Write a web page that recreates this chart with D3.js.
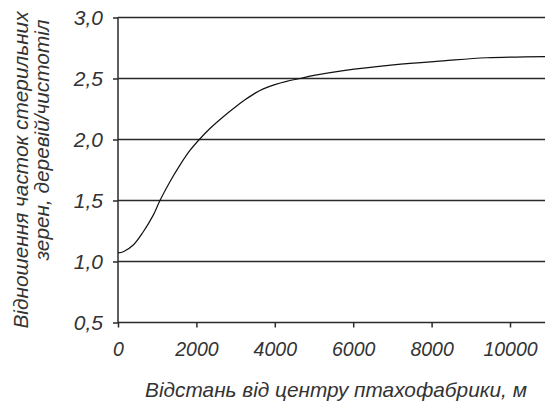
<!DOCTYPE html>
<html><head><meta charset="utf-8">
<script src="https://cdn.jsdelivr.net/npm/d3@7"></script>
<style>
body{margin:0;background:#fff;}
svg{display:block;font-family:"Liberation Sans",Arial,sans-serif;font-style:italic;}
</style></head><body>
<svg id="c" width="545" height="404"></svg>
<script>
const distance = [0,135,390,645,900,1070,1325,1580,1835,2075,2345,2686,3027,3240,3500,3707,4000,4300,4643,5000,5750,7023,8300,9400,10900];
const ratio    = [1.07,1.08,1.135,1.244,1.38,1.50,1.654,1.79,1.91,2.0,2.09,2.187,2.275,2.325,2.38,2.415,2.45,2.477,2.50,2.525,2.565,2.612,2.645,2.67,2.68];
const yTicks = [0.5,1.0,1.5,2.0,2.5,3.0];
const xTicks = [0,2000,4000,6000,8000,10000];
const xTitle = "Відстань від центру птахофабрики, м";
const yTitle = ["Відношення часток стерильних","зерен, деревій/чистотіл"];

const svg = d3.select("#c");
const mLeft=118, mTop=17.5, mBottom=322.5;
const x = d3.scaleLinear().domain([0,11000]).range([mLeft, mLeft+39.2*11]);
const y = d3.scaleLinear().domain([0.5,3.0]).range([mBottom, mTop]);
const col="#2a2a2a", tcol="#333";

// gridlines
svg.append("g").selectAll("line").data(yTicks.slice(1)).join("line")
  .attr("x1",mLeft).attr("x2",545).attr("y1",d=>y(d)).attr("y2",d=>y(d))
  .attr("stroke",col).attr("stroke-width",1.5);

// y axis
const ya = svg.append("g").attr("transform",`translate(${mLeft},0)`)
  .call(d3.axisLeft(y).tickValues(yTicks).tickSize(5).tickPadding(10).tickFormat(d=>d3.format(".1f")(d).replace(".",",")));
// x axis
const xa = svg.append("g").attr("transform",`translate(0,${mBottom})`)
  .call(d3.axisBottom(x).tickValues(xTicks).tickSize(5).tickPadding(15).tickFormat(d3.format("d")));
[ya,xa].forEach(a=>{
  a.select(".domain").attr("stroke",col).attr("stroke-width",1.5);
  a.selectAll(".tick line").attr("stroke",col).attr("stroke-width",1.5);
  a.selectAll(".tick text").attr("fill",tcol).attr("font-family","Liberation Sans, Arial, sans-serif").attr("font-style","italic");
});
ya.selectAll(".tick text").attr("font-size",21);
xa.selectAll(".tick text").attr("font-size",19.5);
ya.select(".domain").attr("d",`M0,${mBottom}V${mTop}`);
xa.select(".domain").attr("d",`M${mLeft},0H545`);

// curve
svg.append("path").datum(distance.map((d,i)=>[d,ratio[i]]))
  .attr("fill","none").attr("stroke","#111").attr("stroke-width",1.2)
  .attr("d",d3.line().x(d=>x(d[0])).y(d=>y(d[1])).curve(d3.curveCatmullRom.alpha(0.5)));

// titles
svg.append("text").attr("x",336).attr("y",397).attr("text-anchor","middle")
  .attr("font-size",20.8).attr("fill",tcol).text(xTitle);
svg.append("text").attr("transform","translate(28,170) rotate(-90)").attr("text-anchor","middle")
  .attr("font-size",20.8).attr("fill",tcol).text(yTitle[0]);
svg.append("text").attr("transform","translate(49,140) rotate(-90)").attr("text-anchor","middle")
  .attr("font-size",20.8).attr("fill",tcol).text(yTitle[1]);
</script></body></html>
